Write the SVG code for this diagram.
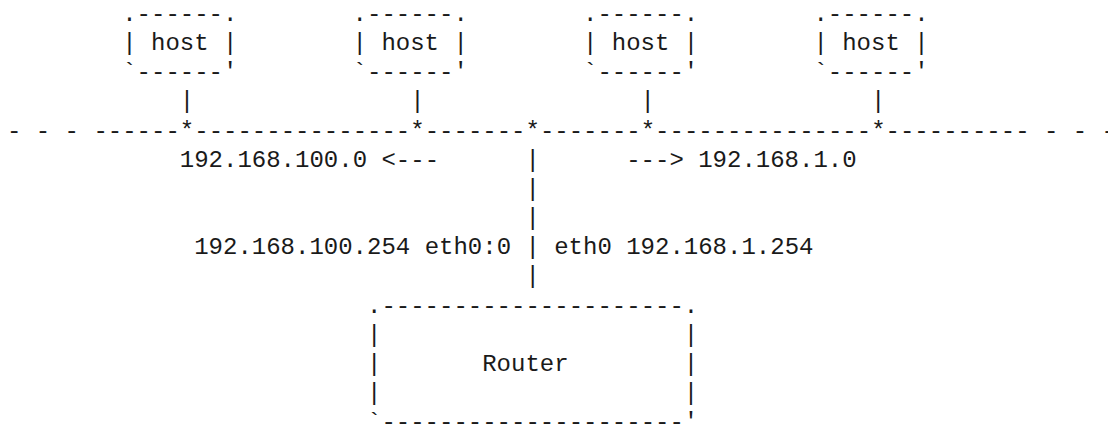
<svg xmlns="http://www.w3.org/2000/svg" width="1108" height="424" viewBox="0 0 1108 424" xml:space="preserve">
<style>
text { font-family: "Liberation Mono", "Courier New", monospace; font-size: 24px; fill: #1a1a1a; white-space: pre; }
</style>
<rect width="1108" height="424" fill="#ffffff"/>
<g id="host1">
<text x="122.2" y="21">.------.</text>
<text x="122.2" y="50.16">| host |</text>
<text x="122.2" y="79.32">`------'</text>
</g>
<g id="host2">
<text x="352.6" y="21">.------.</text>
<text x="352.6" y="50.16">| host |</text>
<text x="352.6" y="79.32">`------'</text>
</g>
<g id="host3">
<text x="583" y="21">.------.</text>
<text x="583" y="50.16">| host |</text>
<text x="583" y="79.32">`------'</text>
</g>
<g id="host4">
<text x="813.4" y="21">.------.</text>
<text x="813.4" y="50.16">| host |</text>
<text x="813.4" y="79.32">`------'</text>
</g>
<g id="router">
<text x="367" y="312.6">.---------------------.</text>
<text x="367" y="341.76">|                     |</text>
<text x="367" y="370.92">|       Router        |</text>
<text x="367" y="400.08">|                     |</text>
<text x="367" y="429.24">`---------------------'</text>
</g>
<g id="connectors">
<text x="179.8" y="108.48">|</text>
<text x="410.2" y="108.48">|</text>
<text x="640.6" y="108.48">|</text>
<text x="871" y="108.48">|</text>
<text x="7" y="137.64">- - - ------*---------------*-------*-------*---------------*---------- - - -</text>
<text x="525.4" y="166.8">|</text>
<text x="525.4" y="195.96">|</text>
<text x="525.4" y="225.12">|</text>
<text x="525.4" y="254.28">|</text>
<text x="525.4" y="283.44">|</text>
</g>
<g id="labels">
<text x="179.8" y="166.8">192.168.100.0 &lt;---</text>
<text x="626.2" y="166.8">---&gt; 192.168.1.0</text>
<text x="194.2" y="254.28">192.168.100.254 eth0:0</text>
<text x="554.2" y="254.28">eth0 192.168.1.254</text>
</g>
</svg>
